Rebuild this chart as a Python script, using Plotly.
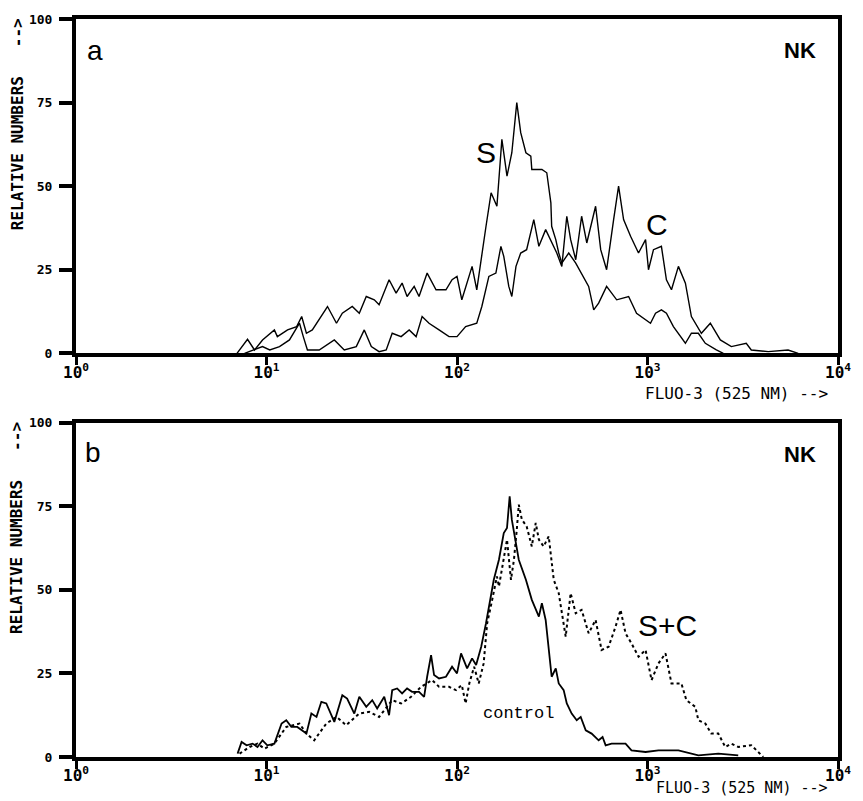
import plotly.graph_objects as go

# ---------------- data ----------------
# Panel a, curve S
s_x = [7.0, 7.95, 8.65, 9.53, 11.0, 11.4, 12.9, 14.4, 15.3, 16.2, 17.4, 20.9, 23.3, 25.0, 28.2,
       30.7, 33.4, 36.8, 39.0, 44.0, 47.9, 51.5, 54.7, 59.6, 63.2, 69.7, 77.6, 87.5, 94.2, 100,
       106, 120, 127, 135, 142, 151, 162, 172, 183, 194, 206, 216, 230, 244, 247, 279, 296, 311,
       314, 330, 342, 355, 386, 420, 451, 491, 522, 554, 610, 689, 796, 876, 1037, 1102, 1183,
       1257, 1368, 1581, 1700, 1849, 2012, 2298, 2500]
s_y = [0, 4.2, 1, 4, 7, 5, 7, 8, 11, 6, 7, 14, 9, 12, 14,
       12, 17, 16, 14.5, 22, 18, 21, 17, 20, 17, 24, 19, 19, 22, 23,
       16, 26, 19, 30, 38, 48, 44, 64, 53, 60, 75, 66, 60, 59, 55, 55, 54, 45,
       38, 34, 30, 27, 30, 27, 24, 20, 13, 15, 20, 16, 17, 12, 9, 12, 13,
       12, 8, 3, 6, 6, 3, 1, 0]

# Panel a, curve C
c_x = [7.67, 8.45, 9.53, 10.4, 11.7, 13.2, 14.9, 15.6, 16.4, 18.9, 22.7, 25.6, 29.6, 32.6, 35.5,
       39.0, 42.5, 45.7, 50.9, 56.1, 61.0, 65.6, 71.3, 80.5, 90.8, 100, 111, 127, 135, 147,
       160, 170, 176, 187, 194, 204, 216, 232, 253, 269, 292, 334, 355, 377, 395, 420, 451,
       480, 534, 568, 610, 664, 705, 749, 815, 897, 977, 1012, 1075, 1183, 1257, 1336, 1453,
       1581, 1700, 1918, 2137, 2411, 2754, 3299, 3506, 4303, 5470, 6180]
c_y = [0, 1, 2, 1, 2, 4, 9, 5, 1, 1, 4, 1, 2, 7, 2,
       0.5, 1, 6, 5, 7, 5, 11, 9, 7, 5, 5, 8, 9, 14, 23,
       24, 32, 29, 20, 17, 26, 30, 31, 40, 32, 37, 30, 26, 41, 34, 28, 41,
       33, 44, 31, 25, 40, 50, 40, 35, 30, 34, 25, 31, 32, 22, 19, 26,
       21, 11, 6, 9, 4, 2, 3, 1, 0.5, 1, 0]

# Panel b, control (solid)
ctl_x = [7.05, 7.40, 7.86, 8.45, 8.97, 9.53, 10.1, 11.0, 12.0, 12.7, 13.5, 14.5, 16.2, 17.2, 18.3,
         19.4, 20.6, 22.7, 25.0, 26.5, 28.9, 30.7, 33.4, 35.9, 38.1, 41.5, 44.0, 45.7, 48.5,
         51.5, 54.7, 58.1, 63.2, 67.2, 69.7, 73.1, 75.8, 80.5, 87.5, 94.2, 100, 105, 113, 120,
         126, 134, 142, 147, 156, 166, 176, 183, 189, 194, 204, 211, 230, 247, 269, 279, 292,
         303, 314, 330, 342, 363, 377, 400, 425, 446, 474, 509, 554, 581, 603, 648, 767, 824,
         977, 1142, 1453, 1849, 2353, 2994]
ctl_y = [1, 4.5, 3.5, 4, 3, 5, 3.5, 4, 10, 11, 9, 9, 7, 13, 12,
         16.5, 16, 10.5, 18.5, 17.5, 13, 18, 15, 17, 14.5, 18, 12.5, 20, 20.5,
         19, 20.5, 19.5, 19.5, 18, 24, 30.5, 24.5, 23.5, 24, 27, 25, 31, 26.5, 29.5,
         27.5, 33, 40, 45, 53, 59, 67, 68.5, 78, 71, 63, 59, 53, 47, 42, 46, 41,
         33, 24, 26.5, 22, 20, 16, 13, 11, 12, 8, 7, 5, 6, 3.5, 4, 4, 2,
         1.5, 2, 2, 0.5, 1, 0.5]

# Panel b, S+C (dotted)
sc_x = [7.22, 8.15, 8.97, 9.76, 11.0, 12.7, 14.9, 16.2, 17.8, 20.6, 23.3, 26.2, 30.7, 34.6, 39.0,
        45.7, 50.9, 57.4, 64.8, 74.0, 80.5, 90.8, 98.8, 106, 111, 116, 123, 130, 138, 144,
        153, 162, 166, 176, 183, 192, 199, 206, 211, 219, 232, 247, 259, 269, 285, 303, 322,
        342, 372, 395, 420, 451, 491, 534, 574, 625, 680, 722, 767, 824, 897, 977, 1050, 1142,
        1243, 1336, 1506, 1600, 1783, 1849, 2012, 2162, 2353, 2560, 2754, 2994, 3506, 3813, 4050]
sc_y = [1, 3, 4, 2.5, 4, 9, 10, 7, 5, 10, 12, 9.5, 13, 13.5, 12,
        17, 16, 18, 21, 23, 21, 21, 20, 21.5, 16, 22, 27, 22, 28, 40,
        47, 54, 51, 59, 65, 53, 59, 68, 75.5, 71, 69, 63, 70, 65, 63, 66, 53,
        49, 36, 49, 43, 44, 37, 41, 32, 33, 39, 44, 37, 34, 30, 32, 23, 28,
        31, 22, 22, 17, 15, 11, 10, 7, 7, 3, 4, 3, 3.5, 1.5, 0]

y_ticks = [0, 25, 50, 75, 100]
x_ticks = [1, 10, 100, 1000, 10000]
x_tick_text = ["10<sup>0</sup>", "10<sup>1</sup>", "10<sup>2</sup>", "10<sup>3</sup>", "10<sup>4</sup>"]

# ---------------- figure ----------------
fig = go.Figure()
fig.add_trace(go.Scatter(x=s_x, y=s_y, mode="lines", line=dict(color="black", width=1.4),
                         xaxis="x", yaxis="y", showlegend=False))
fig.add_trace(go.Scatter(x=c_x, y=c_y, mode="lines", line=dict(color="black", width=1.4),
                         xaxis="x", yaxis="y", showlegend=False))
fig.add_trace(go.Scatter(x=ctl_x, y=ctl_y, mode="lines", line=dict(color="black", width=1.8),
                         xaxis="x2", yaxis="y2", showlegend=False))
fig.add_trace(go.Scatter(x=sc_x, y=sc_y, mode="lines", line=dict(color="black", width=2, dash="dot"),
                         xaxis="x2", yaxis="y2", showlegend=False))

mono = "DejaVu Sans Mono"
xax = dict(type="log", range=[0, 4], tickvals=x_ticks, ticktext=x_tick_text,
           showline=True, linewidth=4, linecolor="black", mirror=True,
           ticks="outside", ticklen=8, tickwidth=3, tickcolor="black",
           showgrid=False, zeroline=False, ticklabelstandoff=-7,
           tickfont=dict(family=mono, size=16, color="black", weight="bold"))
yax = dict(range=[0, 100], tickvals=y_ticks,
           showline=True, linewidth=4, linecolor="black", mirror=True,
           ticks="outside", ticklen=13, tickwidth=4, tickcolor="black",
           showgrid=False, zeroline=False, ticklabelstandoff=4,
           tickfont=dict(family=mono, size=13, color="black", weight="bold"))

fig.update_layout(
    width=863, height=801,
    margin=dict(l=76, r=23, t=15, b=44),
    paper_bgcolor="white", plot_bgcolor="white",
    xaxis=dict(xax, domain=[0, 1], anchor="y"),
    yaxis=dict(yax, domain=[0.547, 1], anchor="x"),
    xaxis2=dict(xax, domain=[0, 1], anchor="y2"),
    yaxis2=dict(yax, domain=[0, 0.453], anchor="x2"),
)

sans = "Liberation Sans"
ann = []
def add(text, x, y, xref, yref, size, family=sans, bold=False, xanchor="center", yanchor="middle", **kw):
    d = dict(text=text, x=x, y=y, xref=xref, yref=yref, showarrow=False,
             xanchor=xanchor, yanchor=yanchor,
             font=dict(family=family, size=size, color="black", weight="bold" if bold else "normal"))
    d.update(kw)
    ann.append(d)

# panel a
add("a", 0.025, 0.905, "x domain", "y domain", 28)
add("NK", 0.95, 0.905, "x domain", "y domain", 22, bold=True)
add("S", 0.538, 0.601, "x domain", "y domain", 30)
add("C", 0.762, 0.384, "x domain", "y domain", 30)
# panel b
add("b", 0.022, 0.91, "x2 domain", "y2 domain", 28)
add("NK", 0.95, 0.905, "x2 domain", "y2 domain", 22, bold=True)
add("S+C", 0.776, 0.393, "x2 domain", "y2 domain", 30)
add("control", 0.581, 0.131, "x2 domain", "y2 domain", 17, family="Liberation Mono")

# axis titles
for ytop in (1.004, 0.457):
    add("RELATIVE NUMBERS   -->", -0.0772, ytop, "paper", "paper", 16, family=mono, bold=True,
        textangle=-90, xanchor="center", yanchor="top")
add("FLUO-3 (525 NM) -->", 0.99, 0.493, "paper", "paper", 16, family=mono,
    xanchor="right", yanchor="middle")
add("FLUO-3 (525 NM) -->", 0.99, -0.0575, "paper", "paper", 15, family=mono,
    xanchor="right", yanchor="bottom")

fig.update_layout(annotations=ann)
fig.write_html("out.html")
